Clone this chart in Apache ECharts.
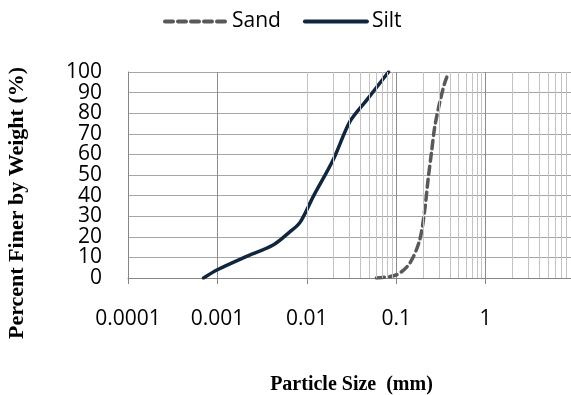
<!DOCTYPE html>
<html>
<head>
<meta charset="utf-8">
<script src="https://cdn.jsdelivr.net/npm/echarts@6/dist/echarts.min.js"></script>
<style>html,body{margin:0;padding:0;background:#fff;}#c{width:571px;height:395px;}</style>
</head>
<body>
<div id="c"></div>
<script>
// Data
const sandSize = [0.060, 0.1005, 0.1416, 0.183, 0.2085, 0.227, 0.2477, 0.270, 0.306, 0.349, 0.380];
const sandPct  = [0, 1.5, 7.1, 18.4, 33, 47.6, 60.7, 73.4, 85, 94.7, 99];
const siltSize = [0.0007, 0.001, 0.002, 0.0042, 0.0065, 0.0084, 0.0118, 0.0198, 0.0304, 0.047, 0.082];
const siltPct  = [0, 4, 10, 16, 22.5, 27, 39.5, 57.5, 76, 86.5, 100];
const xTickLabels = ['0.0001', '0.001', '0.01', '0.1', '1'];
const seriesNames = ['Sand', 'Silt'];
const yTicks = [0, 10, 20, 30, 40, 50, 60, 70, 80, 90, 100];

const xMin = 0.0001, xMax = 10;
const yMin = yTicks[0], yMax = yTicks[yTicks.length - 1];
// minor log gridline positions (2..9 within each decade)
const minorLines = [];
for (let e = -4; e < 1; e++) {
  for (let k = 2; k <= 9; k++) {
    minorLines.push({ xAxis: Number((k * Math.pow(10, e)).toPrecision(6)) });
  }
}

const chart = echarts.init(document.getElementById('c'), null, { renderer: 'canvas' });
const font = "'Open Sans', sans-serif";
const yLabelStyle = { fontFamily: font, fontSize: 21, color: '#000', margin: 26, hideOverlap: false, interval: 0 };
chart.setOption({
  animation: false,
  backgroundColor: '#ffffff',
  legend: {
    data: seriesNames,
    left: 158, top: 6,
    itemWidth: 62, itemHeight: 4, itemGap: 22,
    itemStyle: { opacity: 0, borderWidth: 0 },
    lineStyle: { width: 4, cap: 'round' },
    textStyle: { fontFamily: font, fontSize: 21, color: '#000' }
  },
  grid: { left: 128, right: -4, top: 72, bottom: 117, containLabel: false, outerBoundsMode: 'none' },
  xAxis: {
    type: 'log', logBase: 10, min: xMin, max: xMax,
    name: 'Particle Size  (mm)', nameLocation: 'middle', nameGap: 97,
    nameTextStyle: { fontFamily: "'Liberation Serif', serif", fontWeight: 'bold', fontSize: 20, color: '#000' },
    axisLine: { show: true, lineStyle: { color: '#868686', width: 1 } },
    axisTick: { show: true, length: 6, lineStyle: { color: '#868686' } },
    axisLabel: {
      fontFamily: font, fontSize: 21, color: '#000', margin: 31,
      showMinLabel: true, hideOverlap: false, interval: 0,
      formatter: function (v) {
        const s = Number(Number(v).toPrecision(6)).toString();
        return xTickLabels.indexOf(s) >= 0 ? s : '';
      }
    },
    splitLine: { show: true, lineStyle: { color: '#8c8c8c', width: 1 } }
  },
  yAxis: [
    {
      type: 'value', min: yMin, max: yMax, interval: 10, position: 'left',
      name: 'Percent Finer by Weight (%)', nameLocation: 'middle', nameGap: 100, nameRotate: 90,
      nameTextStyle: { fontFamily: "'Liberation Serif', serif", fontWeight: 'bold', fontSize: 22, color: '#000', padding: [0, 56, 0, 0] },
      axisLine: { show: true, lineStyle: { color: '#868686', width: 1 } },
      axisTick: { show: false },
      axisLabel: Object.assign({}, yLabelStyle, { showMinLabel: false, showMaxLabel: false,
        formatter: function (v) { return (v !== yMin && v !== yMax && yTicks.indexOf(v) >= 0) ? String(v) : ''; } }),
      splitLine: { show: true, lineStyle: { color: '#a6a6a6', width: 1 } }
    },
    {
      type: 'value', min: yMin, max: yMax, interval: yMax - yMin, position: 'left', offset: 0,
      axisLine: { show: false }, axisTick: { show: false }, splitLine: { show: false },
      axisLabel: Object.assign({}, yLabelStyle, { showMinLabel: true, showMaxLabel: true,
        formatter: function (v) { return String(v); } })
    }
  ],
  series: [
    {
      name: 'minor-grid', type: 'line', data: [], silent: true, z: 1,
      markLine: {
        silent: true, symbol: ['none', 'none'], animation: false,
        label: { show: false },
        lineStyle: { color: '#c3c3c3', width: 1, type: 'solid' },
        emphasis: { disabled: true },
        data: minorLines
      }
    },
    {
      name: 'Sand', type: 'line', smooth: 0.3, symbol: 'none', z: 3,
      data: sandSize.map((x, i) => [x, sandPct[i]]),
      lineStyle: { color: '#595959', width: 3.5, type: [8, 5], cap: 'round' },
      itemStyle: { color: '#595959' }
    },
    {
      name: 'Silt', type: 'line', smooth: 0.3, symbol: 'none', z: 3,
      data: siltSize.map((x, i) => [x, siltPct[i]]),
      lineStyle: { color: '#10263f', width: 3.5, cap: 'round' },
      itemStyle: { color: '#10263f' }
    }
  ]
});
</script>
</body>
</html>
